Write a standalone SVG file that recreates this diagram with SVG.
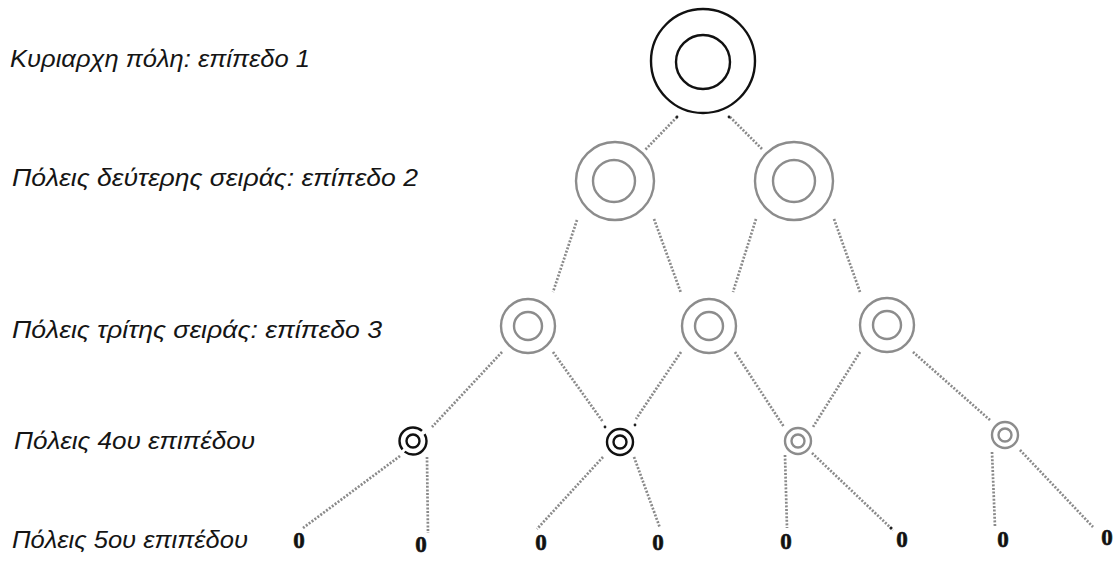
<svg xmlns="http://www.w3.org/2000/svg" width="1118" height="564" viewBox="0 0 1118 564">
<style>
.lbl{font-family:"Liberation Sans",Arial,sans-serif;font-style:italic;font-size:24px;fill:#151515}
.zero{font-family:"Liberation Serif","Times New Roman",serif;font-weight:bold;font-size:23px;fill:#111;text-anchor:middle;stroke:#111;stroke-width:0.6}
.blk{fill:none;stroke:#111;stroke-width:2.4}
.gry{fill:none;stroke:#8c8c8c;stroke-width:2.4}
.con line{stroke:#8a8a8a;stroke-width:2.7;stroke-dasharray:2 1.6;fill:none}
.dot{fill:#222}
</style>
<rect width="1118" height="564" fill="#fff"/>
<g id="labels">
<text class="lbl" x="10" y="67" textLength="300" lengthAdjust="spacingAndGlyphs">Κυριαρχη πόλη: επίπεδο 1</text>
<text class="lbl" x="12" y="186" textLength="406" lengthAdjust="spacingAndGlyphs">Πόλεις δεύτερης σειράς: επίπεδο 2</text>
<text class="lbl" x="12" y="338" textLength="370" lengthAdjust="spacingAndGlyphs">Πόλεις τρίτης σειράς: επίπεδο 3</text>
<text class="lbl" x="14" y="449" textLength="241" lengthAdjust="spacingAndGlyphs">Πόλεις 4ου επιπέδου</text>
<text class="lbl" x="12" y="548" textLength="236" lengthAdjust="spacingAndGlyphs">Πόλεις 5ου επιπέδου</text>
</g>
<g id="connectors" class="con">
<line x1="677" y1="117" x2="645" y2="150"/>
<line x1="730" y1="117" x2="763" y2="150"/>
<line x1="577" y1="220" x2="553" y2="292"/>
<line x1="654" y1="219" x2="681" y2="293"/>
<line x1="756" y1="219" x2="733" y2="292"/>
<line x1="834" y1="219" x2="860" y2="292"/>
<line x1="502" y1="352" x2="432" y2="427"/>
<line x1="553" y1="352" x2="603" y2="422"/>
<line x1="681" y1="352" x2="636" y2="419"/>
<line x1="735" y1="352" x2="784" y2="427"/>
<line x1="860" y1="352" x2="813" y2="427"/>
<line x1="913" y1="352" x2="991" y2="421"/>
<line x1="400" y1="456" x2="303" y2="528"/>
<line x1="427" y1="457" x2="428" y2="533"/>
<line x1="603" y1="457" x2="537" y2="529"/>
<line x1="634" y1="457" x2="660" y2="528"/>
<line x1="785" y1="455" x2="787" y2="528"/>
<line x1="812" y1="453" x2="893" y2="530"/>
<line x1="992" y1="452" x2="995" y2="527"/>
<line x1="1020" y1="450" x2="1093" y2="527"/>
<circle class="dot" cx="677" cy="117" r="1.4"/>
<circle class="dot" cx="729" cy="117" r="1.4"/>
<circle class="dot" cx="605" cy="427" r="1.4"/>
<circle class="dot" cx="635" cy="425" r="1.4"/>
<circle class="dot" cx="891" cy="528" r="1.5"/>
</g>
<g id="n1"><circle class="blk" cx="703" cy="61" r="52"/><circle class="blk" cx="703" cy="62" r="27"/></g>
<g id="n2a"><circle class="gry" cx="615" cy="181" r="39"/><circle class="gry" cx="614" cy="181" r="21"/></g>
<g id="n2b"><circle class="gry" cx="794" cy="181" r="39"/><circle class="gry" cx="794" cy="181" r="21"/></g>
<g id="n3a"><circle class="gry" cx="528" cy="326" r="27"/><circle class="gry" cx="528" cy="326" r="14"/></g>
<g id="n3b"><circle class="gry" cx="709" cy="326" r="27"/><circle class="gry" cx="709" cy="326" r="14"/></g>
<g id="n3c"><circle class="gry" cx="887" cy="325" r="27"/><circle class="gry" cx="887" cy="325" r="14"/></g>
<g id="n4a"><circle class="blk" cx="413" cy="441" r="13.5" stroke-dasharray="30 3 40 4 20 3"/><circle class="blk" cx="413" cy="441" r="6.5"/></g>
<g id="n4b"><circle class="blk" cx="620" cy="442" r="13"/><circle class="blk" cx="620" cy="442" r="6.5"/></g>
<g id="n4c"><circle class="gry" cx="798" cy="441" r="13"/><circle class="gry" cx="798" cy="441" r="6.5"/></g>
<g id="n4d"><circle class="gry" cx="1005" cy="435" r="13"/><circle class="gry" cx="1005" cy="435" r="6.5"/></g>
<g id="level5">
<text class="zero" x="299" y="548">0</text>
<text class="zero" x="421" y="552">0</text>
<text class="zero" x="541" y="550">0</text>
<text class="zero" x="658" y="550">0</text>
<text class="zero" x="786" y="549">0</text>
<text class="zero" x="902" y="547">0</text>
<text class="zero" x="1003" y="547">0</text>
<text class="zero" x="1107" y="545">0</text>
</g>
</svg>
